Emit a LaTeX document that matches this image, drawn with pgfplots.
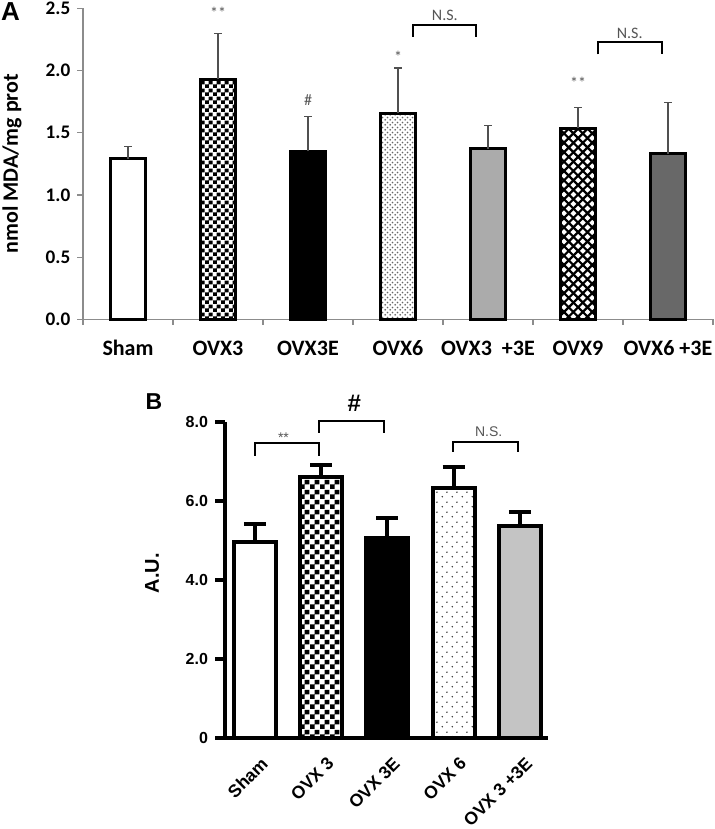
\documentclass[border=0pt]{standalone}
\usepackage{fontspec}
\setmainfont{Liberation Sans}
\newfontfamily\carlito{Carlito}
\usepackage{pgfplots}
\pgfplotsset{compat=1.18}
\usetikzlibrary{patterns}

\definecolor{axgray}{HTML}{8C8C8C}
\definecolor{errgray}{HTML}{505050}
\definecolor{anngray}{HTML}{555555}
\definecolor{midgray}{HTML}{ABABAB}
\definecolor{darkgray2}{HTML}{686868}
\definecolor{lightgrayB}{HTML}{C4C4C4}

\pgfdeclarepatternformonly{checkA}{\pgfpointorigin}{\pgfqpoint{3.8pt}{3.8pt}}{\pgfqpoint{3.8pt}{3.8pt}}{%
 \pgfpathrectangle{\pgfpointorigin}{\pgfqpoint{1.95pt}{1.95pt}}%
 \pgfpathrectangle{\pgfqpoint{1.9pt}{1.9pt}}{\pgfqpoint{1.95pt}{1.95pt}}%
 \pgfusepath{fill}}
\pgfdeclarepatternformonly{checkB}{\pgfpointorigin}{\pgfqpoint{5pt}{5pt}}{\pgfqpoint{5pt}{5pt}}{%
 \pgfpathrectangle{\pgfpointorigin}{\pgfqpoint{2.55pt}{2.55pt}}%
 \pgfpathrectangle{\pgfqpoint{2.5pt}{2.5pt}}{\pgfqpoint{2.55pt}{2.55pt}}%
 \pgfusepath{fill}}
\pgfdeclarepatternformonly{dotsA}{\pgfpointorigin}{\pgfqpoint{2.4pt}{2.4pt}}{\pgfqpoint{2.4pt}{2.4pt}}{%
 \pgfpathcircle{\pgfqpoint{0.6pt}{0.6pt}}{0.5pt}%
 \pgfpathcircle{\pgfqpoint{1.8pt}{1.8pt}}{0.5pt}%
 \pgfusepath{fill}}
\pgfdeclarepatternformonly{dotsB}{\pgfpointorigin}{\pgfqpoint{5pt}{5pt}}{\pgfqpoint{5pt}{5pt}}{%
 \pgfpathcircle{\pgfqpoint{1.25pt}{1.25pt}}{0.45pt}%
 \pgfpathcircle{\pgfqpoint{3.75pt}{3.75pt}}{0.45pt}%
 \pgfusepath{fill}}
\pgfdeclarepatternformonly{diagA}{\pgfqpoint{-1pt}{-1pt}}{\pgfqpoint{5.7pt}{5.7pt}}{\pgfqpoint{4.7pt}{4.7pt}}{%
 \pgfsetlinewidth{1.1pt}%
 \pgfpathmoveto{\pgfqpoint{-0.3pt}{-0.3pt}}\pgfpathlineto{\pgfqpoint{5pt}{5pt}}%
 \pgfpathmoveto{\pgfqpoint{-0.3pt}{5pt}}\pgfpathlineto{\pgfqpoint{5pt}{-0.3pt}}%
 \pgfusepath{stroke}}

\begin{document}
\begin{tikzpicture}
\useasboundingbox (0,0) rectangle (357pt,-414.5pt);

% ---------------- Panel A ----------------
\begin{axis}[
 at={(41.5pt,-159.65pt)}, anchor=south west,
 scale only axis, width=315pt, height=155.5pt,
 xmin=-0.5, xmax=6.5, ymin=0, ymax=2.5,
 axis x line*=bottom, axis y line*=left,
 axis line style={draw=axgray, line width=0.6pt, -},
 tick style={draw=axgray, line width=0.6pt},
 tick align=outside,
 major tick length=2.8pt,
 xtick={-0.5,0.5,...,6.5}, xticklabels={},
 extra x ticks={0,1,2,3,4,5,6},
 extra x tick labels={Sham,OVX3,OVX3E,OVX6,{OVX3\ \ +3E},OVX9,{OVX6 +3E}},
 extra x tick style={major tick length=0pt},
 ytick={0,0.5,1,1.5,2,2.5}, yticklabels={0.0,0.5,1.0,1.5,2.0,2.5},
 yticklabel style={font=\carlito\bfseries\fontsize{9.6}{11}\selectfont},
 xticklabel style={font=\carlito\bfseries\fontsize{11}{13}\selectfont, anchor=center, yshift=-14.5pt},
 ylabel={nmol MDA/mg prot},
 ylabel style={font=\carlito\bfseries\fontsize{11}{13}\selectfont, at={(axis description cs:-0.1127,0.5)}, anchor=center},
 ybar, bar width=17.25pt, bar shift=0pt,
 clip=false,
 error bars/y dir=plus, error bars/y explicit,
 error bars/error bar style={line width=0.6pt, draw=errgray},
 error bars/error mark options={rotate=90, line width=0.6pt, draw=errgray, mark size=2pt},
]
\addplot[draw=black, line width=1.5pt, fill=white] coordinates {(0,1.29) +- (0,0.10)};
\addplot[draw=black, line width=1.5pt, pattern=checkA, pattern color=black] coordinates {(1,1.93) +- (0,0.37)};
\addplot[draw=black, line width=1.5pt, fill=black] coordinates {(2,1.35) +- (0,0.28)};
\addplot[draw=black, line width=1.5pt, pattern=dotsA, pattern color=black!60] coordinates {(3,1.655) +- (0,0.365)};
\addplot[draw=black, line width=1.5pt, fill=midgray] coordinates {(4,1.37) +- (0,0.19)};
\addplot[draw=black, line width=1.5pt, pattern=diagA, pattern color=black] coordinates {(5,1.535) +- (0,0.165)};
\addplot[draw=black, line width=1.5pt, fill=darkgray2] coordinates {(6,1.33) +- (0,0.41)};

\begin{scope}[font=\carlito\fontsize{8}{9}\selectfont, text=anngray]
\node at (axis cs:1,2.46) {**};
\node at (axis cs:2,1.76) {\#};
\node at (axis cs:3,2.11) {*};
\node at (axis cs:5,1.90) {**};
\node at (axis cs:3.52,2.44) {N.S.};
\node at (axis cs:5.575,2.30) {N.S.};
\end{scope}
\draw[line width=1pt] (axis cs:3.17,2.27) -- (axis cs:3.17,2.366) -- (axis cs:3.87,2.366) -- (axis cs:3.87,2.27);
\draw[line width=1pt] (axis cs:5.22,2.13) -- (axis cs:5.22,2.23) -- (axis cs:5.93,2.23) -- (axis cs:5.93,2.13);
\end{axis}
\node[font=\bfseries\fontsize{13}{15}\selectfont] at (5.25pt,-5.75pt) {A};

% ---------------- Panel B ----------------
\begin{axis}[
 at={(112.5pt,-369.15pt)}, anchor=south west,
 scale only axis, width=161.5pt, height=158pt,
 xmin=-0.453, xmax=4.426, ymin=0, ymax=8,
 axis x line*=bottom, axis y line*=left,
 axis line style={draw=black, line width=2pt, -},
 x axis line style={shorten <=-5pt},
 tick style={draw=black, line width=2pt},
 tick align=outside,
 major tick length=5pt,
 xtick={0,1,2,3,4},
 xticklabels={Sham,OVX 3,OVX 3E,OVX 6,OVX 3 +3E},
 x tick style={draw=none},
 ytick={0,2,4,6,8}, yticklabels={0,2.0,4.0,6.0,8.0},
 yticklabel style={font=\bfseries\fontsize{8}{10}\selectfont},
 xticklabel style={font=\bfseries\fontsize{8.8}{11}\selectfont, rotate=45, anchor=north east, xshift=2.5pt, yshift=-1pt},
 ylabel={A.U.},
 ylabel style={font=\bfseries\fontsize{10}{12}\selectfont, at={(axis description cs:-0.226,0.523)}, anchor=center},
 ybar, bar width=21pt, bar shift=0pt,
 clip=false,
 error bars/y dir=plus, error bars/y explicit,
 error bars/error bar style={line width=2pt, draw=black},
 error bars/error mark options={rotate=90, line width=2pt, draw=black, mark size=5.5pt},
]
\addplot[draw=black, line width=2pt, fill=white] coordinates {(0,4.98) +- (0,0.44)};
\addplot[draw=black, line width=2pt, pattern=checkB, pattern color=black] coordinates {(1,6.61) +- (0,0.31)};
\addplot[draw=black, line width=2pt, fill=black] coordinates {(2,5.06) +- (0,0.52)};
\addplot[draw=black, line width=2pt, pattern=dotsB, pattern color=black!80] coordinates {(3,6.33) +- (0,0.53)};
\addplot[draw=black, line width=2pt, fill=lightgrayB] coordinates {(4,5.37) +- (0,0.37)};

\begin{scope}[text=anngray, font=\fontsize{7}{8}\selectfont]
\node at (axis cs:0.43,7.62) {**};
\node at (axis cs:3.53,7.76) {N.S.};
\end{scope}
\node[font=\bfseries\fontsize{12}{14}\selectfont] at (axis cs:1.5,8.49) {\#};
\draw[line width=1pt] (axis cs:0,7.15) -- (axis cs:0,7.47) -- (axis cs:0.96,7.47) -- (axis cs:0.96,7.15);
\draw[line width=1pt] (axis cs:0.96,7.74) -- (axis cs:0.96,8.04) -- (axis cs:1.95,8.04) -- (axis cs:1.95,7.74);
\draw[line width=1pt] (axis cs:2.99,7.25) -- (axis cs:2.99,7.51) -- (axis cs:3.97,7.51) -- (axis cs:3.97,7.25);
\end{axis}
\node[font=\bfseries\fontsize{11.5}{14}\selectfont] at (77pt,-201pt) {B};
\end{tikzpicture}
\end{document}
